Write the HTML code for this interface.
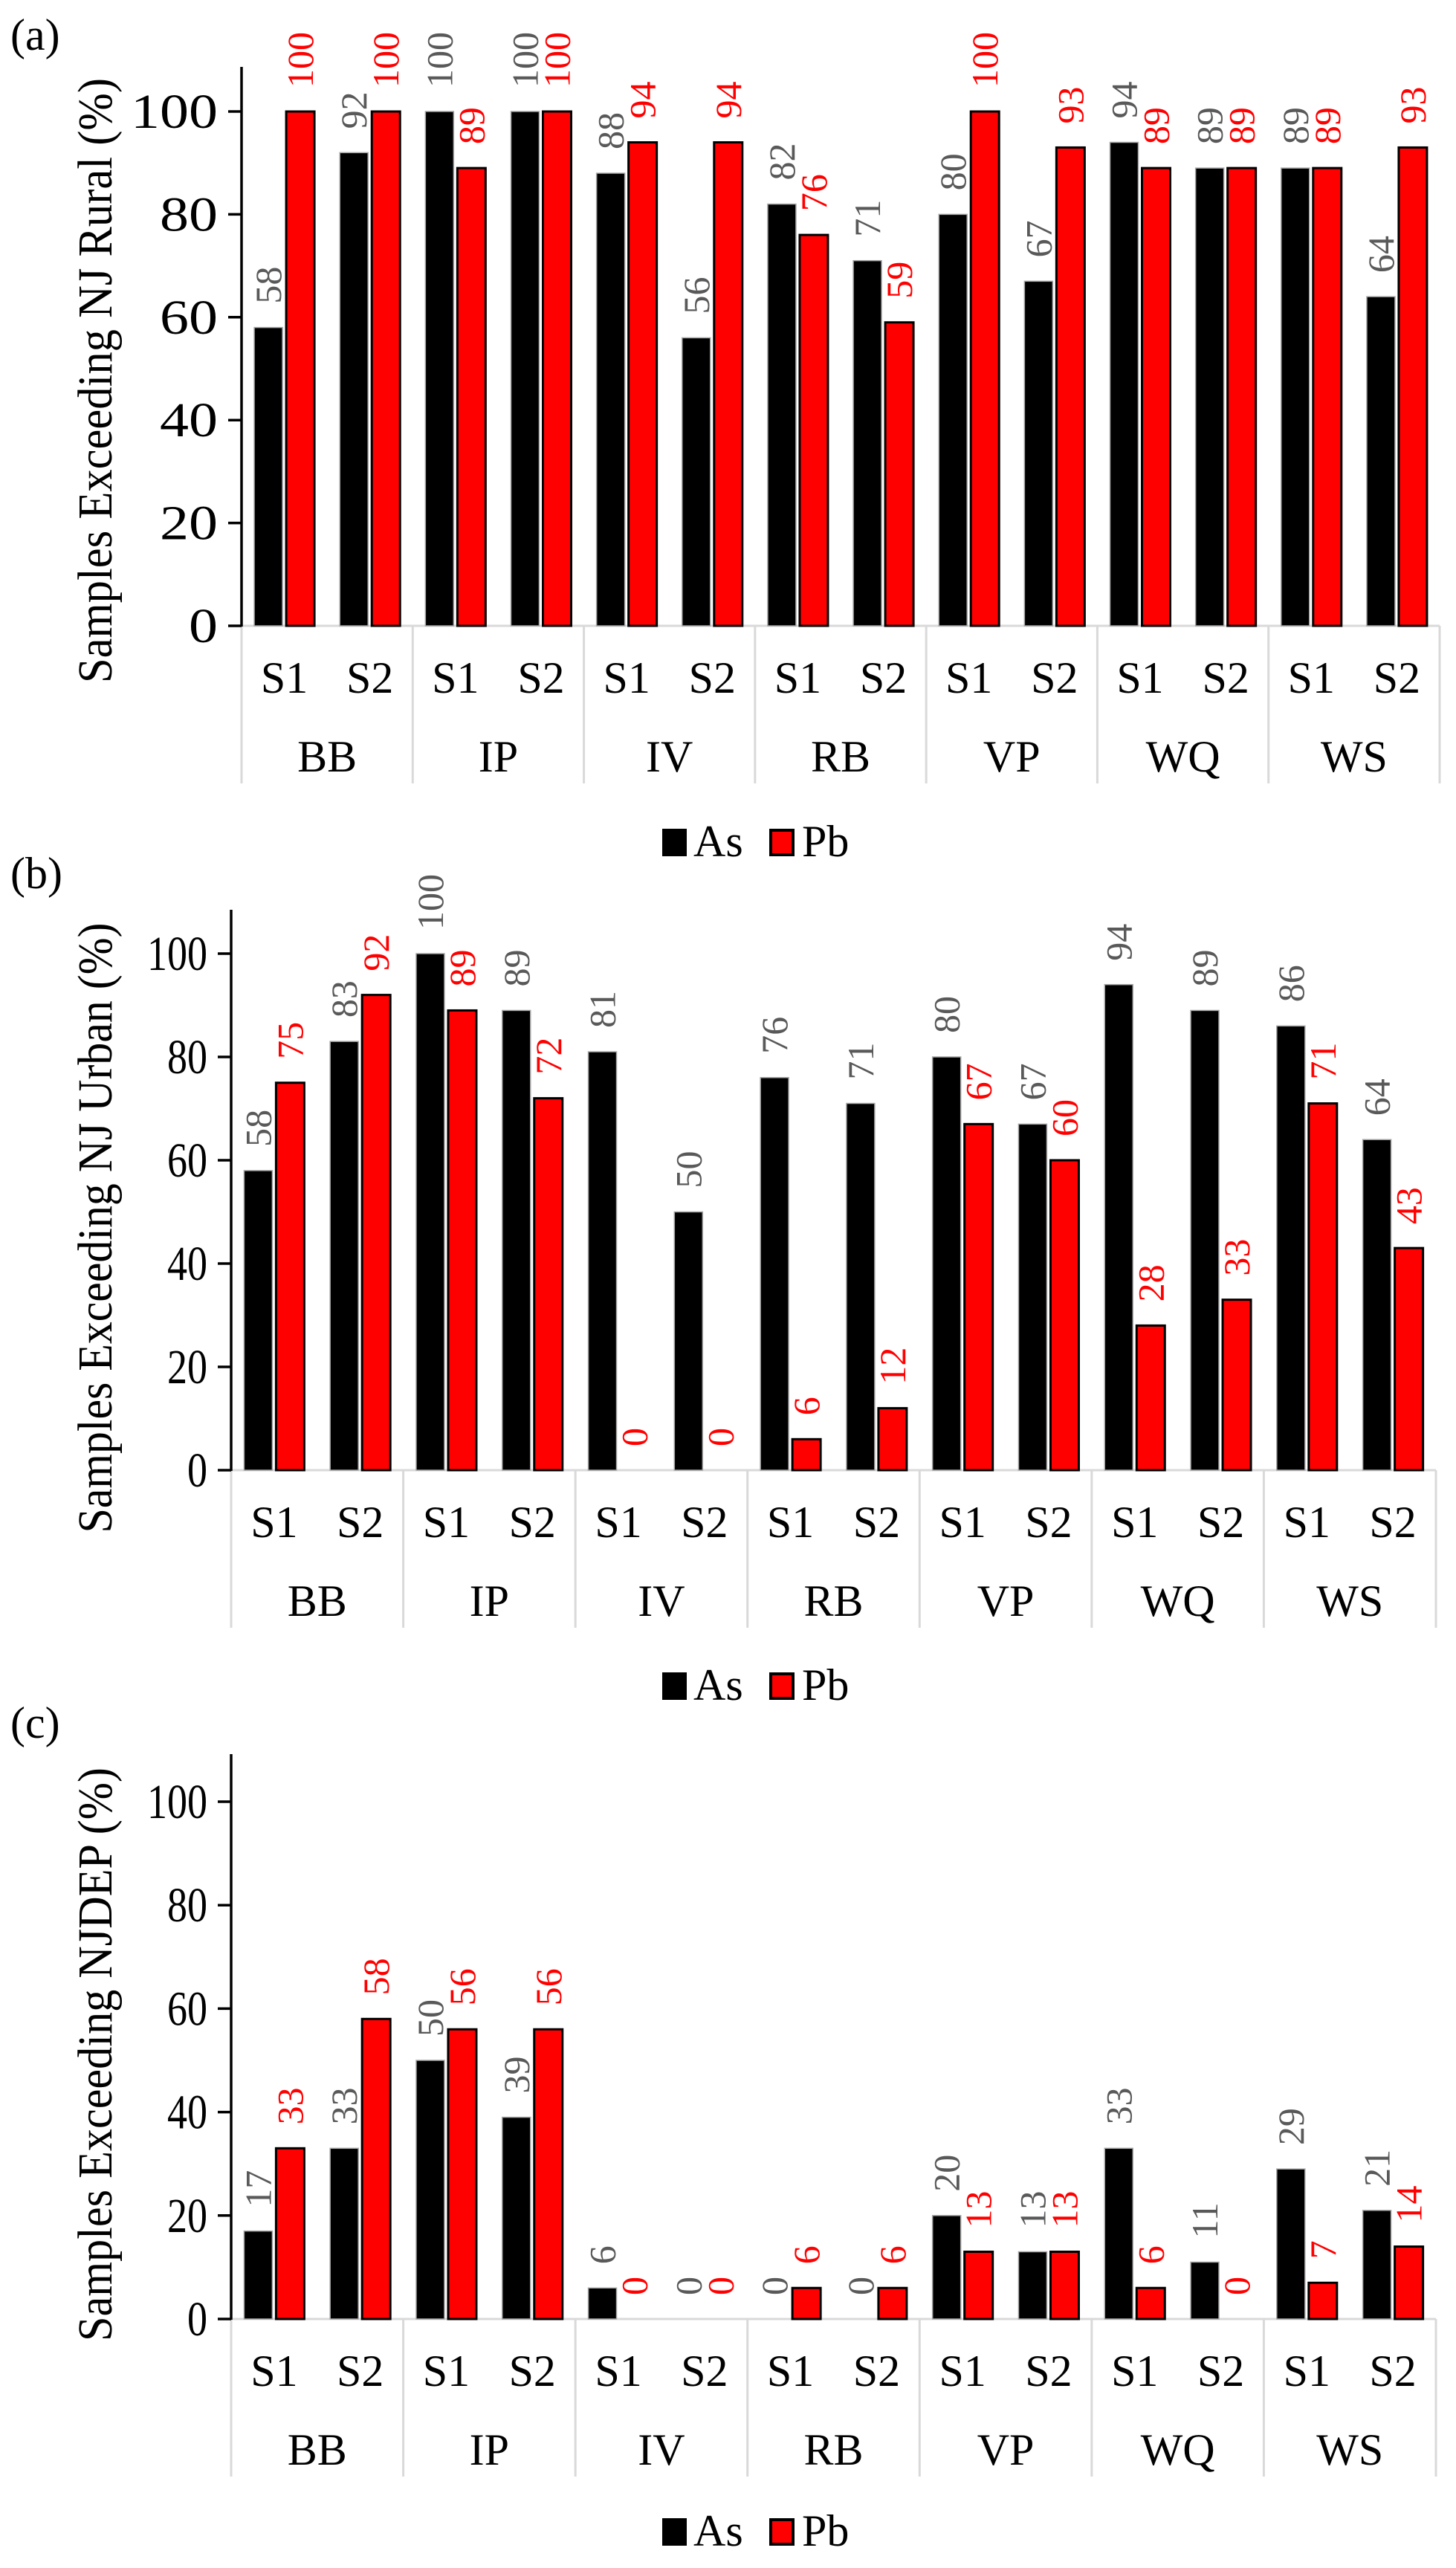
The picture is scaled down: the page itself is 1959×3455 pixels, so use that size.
<!DOCTYPE html>
<html><head><meta charset="utf-8"><style>
html,body{margin:0;padding:0;background:#fff}
svg{display:block;font-family:"Liberation Serif","Times New Roman","DejaVu Serif",serif}
svg text{font-family:"Liberation Serif","Times New Roman","DejaVu Serif",serif}
</style></head><body>
<svg id="fig" width="1959" height="3455" viewBox="0 0 1959 3455" font-family="Liberation Serif, Times New Roman, DejaVu Serif, serif" xmlns="http://www.w3.org/2000/svg"></svg>
<script>
const groups = ["BB","IP","IV","RB","VP","WQ","WS"];
const subs = ["S1","S2"];
const yTicks = [0,20,40,60,80,100];
const asRural = [58,92,100,100,88,56,82,71,80,67,94,89,89,64];
const pbRural = [100,100,89,100,94,94,76,59,100,93,89,89,89,93];
const asUrban = [58,83,100,89,81,50,76,71,80,67,94,89,86,64];
const pbUrban = [75,92,89,72,0,0,6,12,67,60,28,33,71,43];
const asDep = [17,33,50,39,6,0,0,0,20,13,33,11,29,21];
const pbDep = [33,58,56,56,0,0,6,6,13,13,6,0,7,14];
const panelTitles = ["Samples Exceeding NJ Rural (%)","Samples Exceeding NJ Urban (%)","Samples Exceeding NJDEP (%)"];
const panelLetters = ["(a)","(b)","(c)"];

const svg = document.getElementById('fig');
const NS = "http://www.w3.org/2000/svg";
const FF = "Liberation Serif, Times New Roman, DejaVu Serif, serif";
function mk(tag, attrs, parent){const e=document.createElementNS(NS,tag);for(const k in attrs)e.setAttribute(k,attrs[k]);if(tag==='text')e.setAttribute('font-family',FF);(parent||svg).appendChild(e);return e;}

const layout = [
  {ax:325,end:1937,y0:842,span:692,top:90,lab:49,tickW:39,titleY:512,titleL:814,legY:1115},
  {ax:311,end:1932,y0:1978,span:695,top:1224,lab:1177,tickW:27,titleY:1652,titleL:821,legY:2250},
  {ax:311,end:1932,y0:3120,span:696,top:2360,lab:2320,tickW:27,titleY:2764,titleL:772,legY:3388}
];
const asData=[asRural,asUrban,asDep], pbData=[pbRural,pbUrban,pbDep];

layout.forEach((L,p)=>{
  const g = mk('g',{});
  
  
  const y = v => L.y0 - v/100*L.span;
  const gw = (L.end-L.ax)/groups.length;
  const sw = gw/2;
  let t = mk('text',{x:14,y:L.lab+18,'font-size':60},g); t.textContent=panelLetters[p];
   
  t = mk('text',{x:0,y:0,'font-size':66,'text-anchor':'middle',textLength:L.titleL,lengthAdjust:'spacingAndGlyphs',transform:`translate(150,${L.titleY}) rotate(-90)`},g);
  t.textContent=panelTitles[p];
   
  let l = mk('line',{x1:L.ax,y1:L.y0,x2:L.end,y2:L.y0,stroke:'#d9d9d9','stroke-width':3},g);
   
  for(let i=0;i<=groups.length;i++){
    const x=L.ax+i*gw;
    l=mk('line',{x1:x,y1:L.y0,x2:x,y2:L.y0+212,stroke:'#d9d9d9','stroke-width':3},g);
     
  }
  groups.forEach((gn,gi)=>{
    t=mk('text',{x:L.ax+gi*gw+gw/2,y:L.y0+196,'font-size':60,'text-anchor':'middle'},g);
    t.textContent=gn;
     
    subs.forEach((sn,si)=>{
      t=mk('text',{x:L.ax+gi*gw+si*sw+sw/2,y:L.y0+90,'font-size':60,'text-anchor':'middle'},g);
      t.textContent=sn;
       
    });
  });
  const bw=38, gap=5;
  for(let k=0;k<groups.length*2;k++){
    const cx=L.ax+k*sw+sw/2;
    [[asData[p][k],'#000','#a6a6a6',1.5,'#595959',cx-gap/2-bw/2,'bar-as'],[pbData[p][k],'#ff0000','#000',3,'#ff0000',cx+gap/2+bw/2,'bar-pb']].forEach(([v,fill,st,sw2,lc,bx,nm])=>{
      if(v>0){
        const r=mk('rect',{x:bx-bw/2,y:y(v),width:bw,height:L.y0-y(v),fill:fill,stroke:st,'stroke-width':sw2},g);
         
      }
      const tt=mk('text',{x:0,y:0,'font-size':50,fill:lc,'dominant-baseline':'central',transform:`translate(${bx},${y(v)-32}) rotate(-90)`},g);
      tt.textContent=String(v);
       
    });
  }
  l=mk('line',{x1:L.ax,y1:L.top,x2:L.ax,y2:L.y0+1,stroke:'#000','stroke-width':3.5},g);
   
  yTicks.forEach(v=>{
    l=mk('line',{x1:L.ax-18,y1:y(v),x2:L.ax,y2:y(v),stroke:'#000','stroke-width':3.5},g);
     
    const s=String(v);
    t=mk('text',{x:L.ax-32,y:y(v)+22,'font-size':66,'text-anchor':'end',textLength:s.length*L.tickW,lengthAdjust:'spacingAndGlyphs'},g);
    t.textContent=s;
     
  });
  let r=mk('rect',{x:891,y:L.legY,width:33,height:37,fill:'#000'},g);
   
  t=mk('text',{x:933,y:L.legY+37,'font-size':60},g); t.textContent='As';
   
  r=mk('rect',{x:1037,y:L.legY+2,width:30,height:33,fill:'#ff0000',stroke:'#000','stroke-width':4},g);
   
  t=mk('text',{x:1079,y:L.legY+37,'font-size':60},g); t.textContent='Pb';
   
});
</script>
</body></html>
